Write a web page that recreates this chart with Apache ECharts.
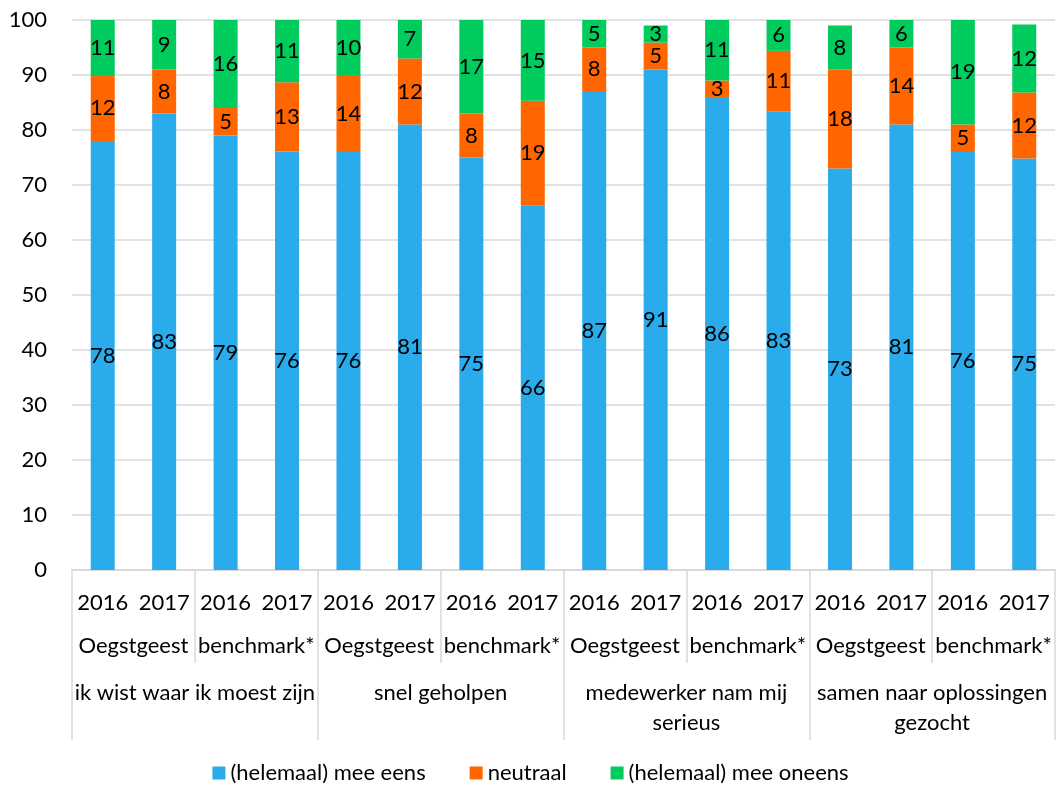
<!DOCTYPE html>
<html>
<head>
<meta charset="utf-8">
<script src="https://cdn.jsdelivr.net/npm/echarts@6/dist/echarts.min.js"></script>
<style>
  html, body { margin: 0; padding: 0; background: #fff; }
  #chart { width: 1061px; height: 787px; }
</style>
</head>
<body>
<div id="chart"></div>
<script>
const years = ['2016', '2017', '2016', '2017', '2016', '2017', '2016', '2017',
  '2016', '2017', '2016', '2017', '2016', '2017', '2016', '2017']
const places = ['Oegstgeest', 'benchmark*', 'Oegstgeest', 'benchmark*',
  'Oegstgeest', 'benchmark*', 'Oegstgeest', 'benchmark*']
const questions = ['ik wist waar ik moest zijn', 'snel geholpen',
  'medewerker nam mij\nserieus', 'samen naar oplossingen\ngezocht']

const eens = [78, 83, 79, 76.1, 76, 81, 75, 66.3, 87.1, 91, 86, 83.4, 73, 81, 76, 74.8]
const neutraal = [12, 8, 5, 12.6, 14, 12, 8, 19, 7.9, 4.9, 3, 11, 18, 14, 5, 12]
const oneens = [11, 9, 16, 11.3, 10, 7, 17, 14.7, 5, 3.1, 11, 5.6, 8, 6, 19, 12.4]

const seriesNames = ['(helemaal) mee eens', 'neutraal', '(helemaal) mee oneens']
const colors = ['#2aabec', '#ff6600', '#00cc5e']

const font = 'Lato'
const fs = 22

var myChart = echarts.init(document.getElementById('chart'))

const bar = (name, data, color) => ({
  name,
  type: 'bar',
  stack: 'total',
  barWidth: 24,
  itemStyle: { color },
  label: {
    show: true,
    position: 'inside',
    color: '#000',
    fontFamily: font,
    fontSize: fs,
    formatter: p => Math.round(p.value),
  },
  data,
})

const catAxis = (data, margin, tick) => ({
  type: 'category',
  data,
  position: 'bottom',
  offset: 0,
  axisLine: { show: true, lineStyle: { color: '#d9d9d9', width: 1.5 } },
  axisTick: tick
    ? { show: true, length: tick, interval: 0, lineStyle: { color: '#d9d9d9', width: 1.5 } }
    : { show: false },
  axisLabel: {
    interval: 0,
    margin,
    color: '#000',
    fontFamily: font,
    fontSize: fs,
    lineHeight: 30,
  },
  splitLine: { show: false },
})

myChart.setOption({
  animation: false,
  color: colors,
  grid: { left: 72, right: 6, top: 20, bottom: 217, containLabel: false },
  legend: {
    bottom: 3,
    left: 'center',
    padding: 0,
    itemWidth: 13,
    itemHeight: 13,
    itemGap: 44,
    icon: 'rect',
    textStyle: { color: '#000', fontFamily: font, fontSize: fs },
    data: seriesNames,
  },
  xAxis: [
    catAxis(years, 18, 0),
    catAxis(places, 61, 93),
    catAxis(questions, 108, 170),
  ],
  yAxis: {
    type: 'value',
    min: 0,
    max: 100,
    interval: 10,
    axisLine: { show: false },
    axisTick: { show: false },
    axisLabel: { color: '#000', fontFamily: font, fontSize: fs, margin: 25 },
    splitLine: { lineStyle: { color: '#d9d9d9', width: 1.5 } },
  },
  series: [
    bar(seriesNames[0], eens, colors[0]),
    bar(seriesNames[1], neutraal, colors[1]),
    bar(seriesNames[2], oneens, colors[2]),
  ],
})
</script>
</body>
</html>
